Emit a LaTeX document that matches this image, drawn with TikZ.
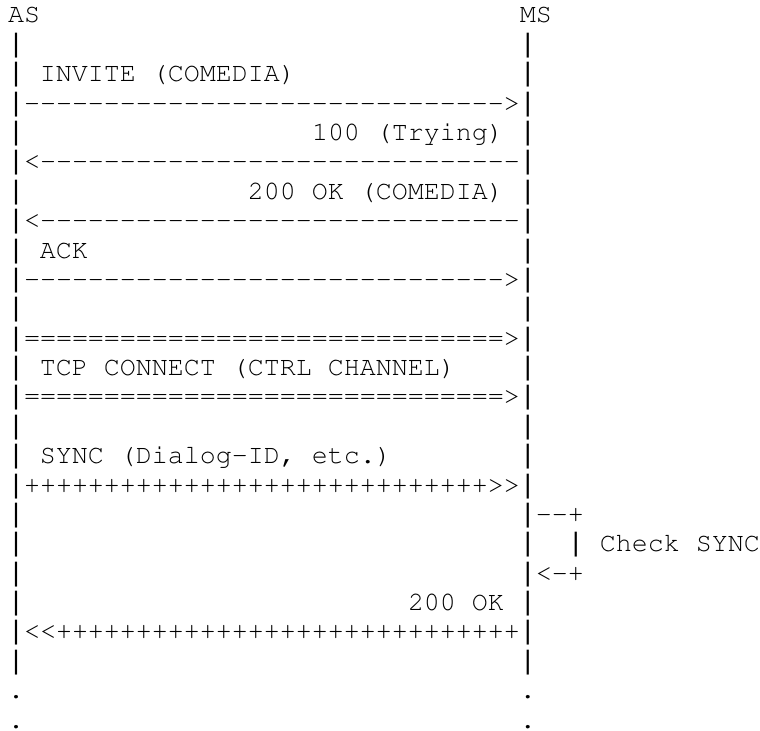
\documentclass[tikz,border=0pt]{standalone}
\usepackage[T1]{fontenc}
\usepackage{fontspec}
\newfontfamily\barfont{Liberation Mono}
\tikzset{
    asc/.style={anchor=base west,inner sep=0pt,outer sep=0pt,font=\fontencoding{T1}\fontfamily{pcr}\fontsize{10pt}{11pt}\selectfont},
    bar/.style={asc,font=\barfont\fontsize{10pt}{11pt}\selectfont}
}
\newcommand{\chrun}[2]{\foreach \k in {1,...,#1}{#2}}

\begin{document}
\begin{tikzpicture}[x=6pt,y=-11.016pt]
            \useasboundingbox (-3pt,8.625pt) rectangle (282pt,-265.5pt);
            \node [asc] (as) at (0,0) {AS};
            \node [asc] (ms) at (32,0) {MS};
            \foreach \r in {1,...,22} {
                \node [bar] (asl\r) at (0,\r) {|};
                \node [bar] (msl\r) at (32,\r) {|};
            }
            \node [asc] (invite) at (2,2) {INVITE (COMEDIA)};
            \node [asc] (invitearr) at (1,3) {\chrun{30}{-}>};
            \node [asc] (trying) at (19,4) {100 (Trying)};
            \node [asc] (tryingarr) at (1,5) {<\chrun{30}{-}};
            \node [asc] (okcomedia) at (15,6) {200 OK (COMEDIA)};
            \node [asc] (okcomediaarr) at (1,7) {<\chrun{30}{-}};
            \node [asc] (ack) at (2,8) {ACK};
            \node [asc] (ackarr) at (1,9) {\chrun{30}{-}>};
            \node [asc] (tcparra) at (1,11) {\chrun{30}{=}>};
            \node [asc] (tcp) at (2,12) {TCP CONNECT (CTRL CHANNEL)};
            \node [asc] (tcparrb) at (1,13) {\chrun{30}{=}>};
            \node [asc] (sync) at (2,15) {SYNC (Dialog-ID, etc.)};
            \node [asc] (syncarr) at (1,16) {\chrun{29}{+}\chrun{2}{>}};
            \node [asc] (loopout) at (33,17) {\chrun{2}{-}+};
            \node [bar] (loopbar) at (35,18) {|};
            \node [asc] (check) at (37,18) {Check SYNC};
            \node [asc] (loopin) at (33,19) {{<}{-}+};
            \node [asc] (syncok) at (25,20) {200 OK};
            \node [asc] (syncokarr) at (1,21) {\chrun{2}{<}\chrun{29}{+}};
            \foreach \r in {23,24} {
                \node [asc] (asd\r) at (0,\r) {.};
                \node [asc] (msd\r) at (32,\r) {.};
            }
        \end{tikzpicture}
\end{document}
